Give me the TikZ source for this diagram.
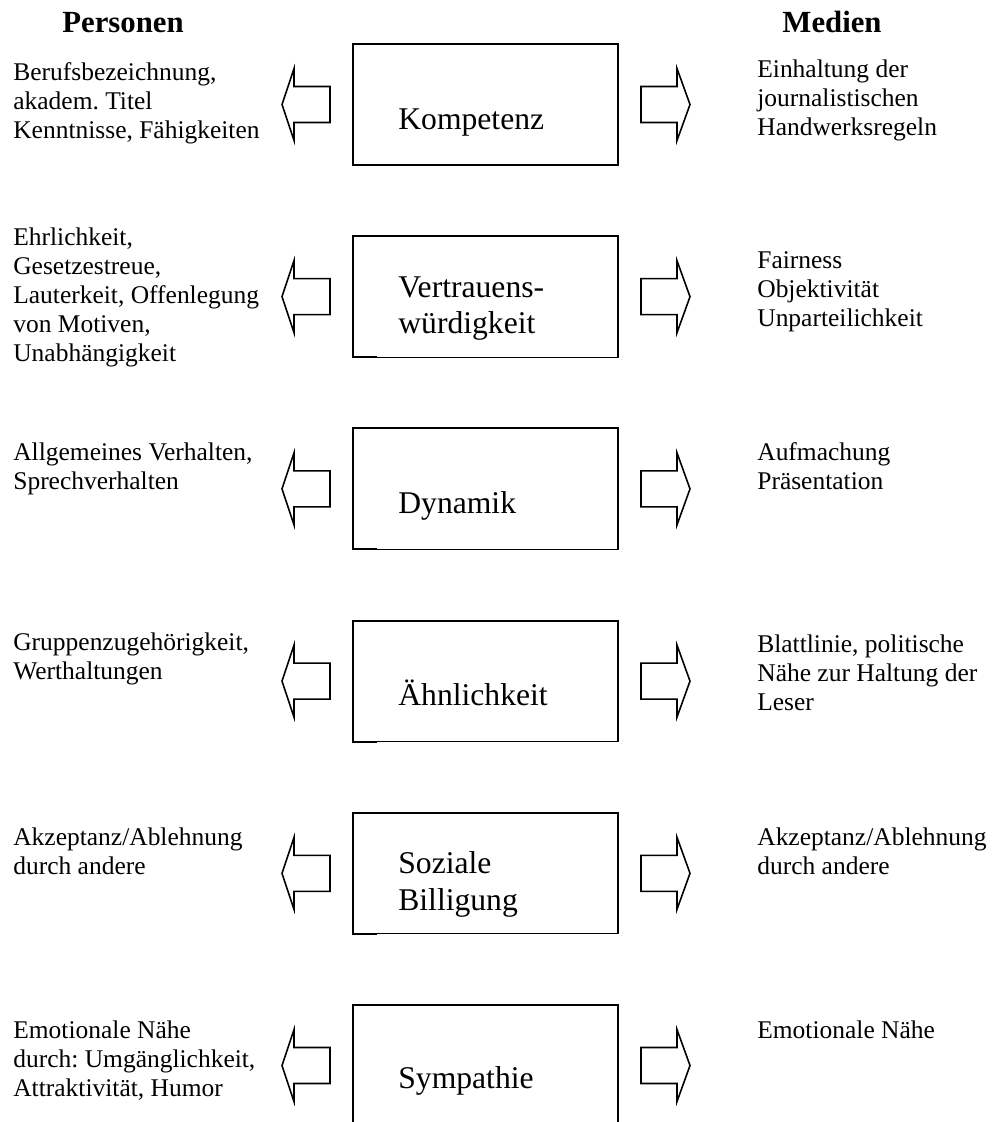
\documentclass[tikz,border=0pt]{standalone}
\usepackage{fontspec}
\setmainfont{Liberation Serif}
\usetikzlibrary{math}
\frenchspacing

\tikzset{
  sidetext/.style={anchor=north west, align=left, inner sep=0pt,
    font=\fontsize{14.5}{16.5}\selectfont},
  boxtext/.style={anchor=base west, align=left, inner sep=0pt,
    font=\fontsize{18}{21}\selectfont},
  headtext/.style={anchor=base, inner sep=0pt,
    font=\fontsize{17.5}{20}\selectfont\bfseries},
  blockarrow/.style={line width=0.9pt, line join=miter},
  thinframe/.style={line width=0.6pt},
  thickframe/.style={line width=1.2pt, line join=miter},
}

\begin{document}
\begin{tikzpicture}[x=0.02cm, y=-0.02cm]

  \tikzmath{
    \firsttop  = 44;    % top edge of the first box
    \rowgap    = 192.2; % distance from one row to the next
    \boxheight = 121;   % height of a box
    \boxleft   = 353;   % left edge of the boxes
    \boxright  = 618;   % right edge of the boxes
    \shafthw   = 18;    % half width of the arrow shaft
    \headhw    = 36;    % half width of the arrow head
  }

  \useasboundingbox (0,0) rectangle (1000,1122);

  % boxes and arrows, one row at a time
  \foreach \i in {0,...,5} {
    \tikzmath{
      \t = \firsttop + \i*\rowgap;
      \m = \t + \boxheight/2;
    }
    \coordinate (box\i) at (\boxleft,\t);
    \draw[thinframe] (box\i) rectangle (\boxright,\t+\boxheight);
    \draw[thickframe] (\boxleft+24,\t+\boxheight) -- (\boxleft,\t+\boxheight)
      -- (box\i) -- (\boxright,\t) -- (\boxright,\t+48);

    % arrow to the left
    \draw[blockarrow] (282,\m) -- (294,\m-\headhw) -- (294,\m-\shafthw)
      -- (330,\m-\shafthw) -- (330,\m+\shafthw) -- (294,\m+\shafthw)
      -- (294,\m+\headhw) -- cycle;
    % arrow to the right
    \draw[blockarrow] (690,\m) -- (677,\m-\headhw) -- (677,\m-\shafthw)
      -- (641,\m-\shafthw) -- (641,\m+\shafthw) -- (677,\m+\shafthw)
      -- (677,\m+\headhw) -- cycle;
  }

  % headings
  \node[headtext] (personen) at (123,33) {Personen};
  \node[headtext] (medien) at (832,33) {Medien};

  % labels in the boxes
  \node[boxtext] (kompetenz) at (398,130) {Kompetenz};
  \node[boxtext, anchor=north west] (vertrauen) at (398,276) {Vertrauens-\\würdigkeit};
  \node[boxtext] (dynamik) at (398,513) {Dynamik};
  \node[boxtext] (aehnlich) at (398,705) {Ähnlichkeit};
  \node[boxtext, anchor=north west] (sozial) at (398,851) {Soziale\\Billigung};
  \node[boxtext] (sympathie) at (398,1088) {Sympathie};

  % Personen
  \node[sidetext] (pers1) at (13,62.5) {Berufsbezeichnung,\\akadem. Titel\\Kenntnisse, Fähigkeiten};
  \node[sidetext] (pers2) at (13,227.5) {Ehrlichkeit,\\Gesetzestreue,\\Lauterkeit, Offenlegung\\von Motiven,\\Unabhängigkeit};
  \node[sidetext] (pers3) at (13,442.5) {Allgemeines Verhalten,\\Sprechverhalten};
  \node[sidetext] (pers4) at (13,632.5) {Gruppenzugehörigkeit,\\Werthaltungen};
  \node[sidetext] (pers5) at (13,827.5) {Akzeptanz/Ablehnung\\durch andere};
  \node[sidetext] (pers6) at (13,1020.5) {Emotionale Nähe\\durch: Umgänglichkeit,\\Attraktivität, Humor};

  % Medien
  \node[sidetext] (med1) at (757,59.5) {Einhaltung der\\journalistischen\\Handwerksregeln};
  \node[sidetext] (med2) at (757,251.5) {Fairness\\Objektivität\\Unparteilichkeit};
  \node[sidetext] (med3) at (757,442.5) {Aufmachung\\Präsentation};
  \node[sidetext] (med4) at (757,634.5) {Blattlinie, politische\\Nähe zur Haltung der\\Leser};
  \node[sidetext] (med5) at (757,827.5) {Akzeptanz/Ablehnung\\durch andere};
  \node[sidetext] (med6) at (757,1020.5) {Emotionale Nähe};

\end{tikzpicture}
\end{document}
